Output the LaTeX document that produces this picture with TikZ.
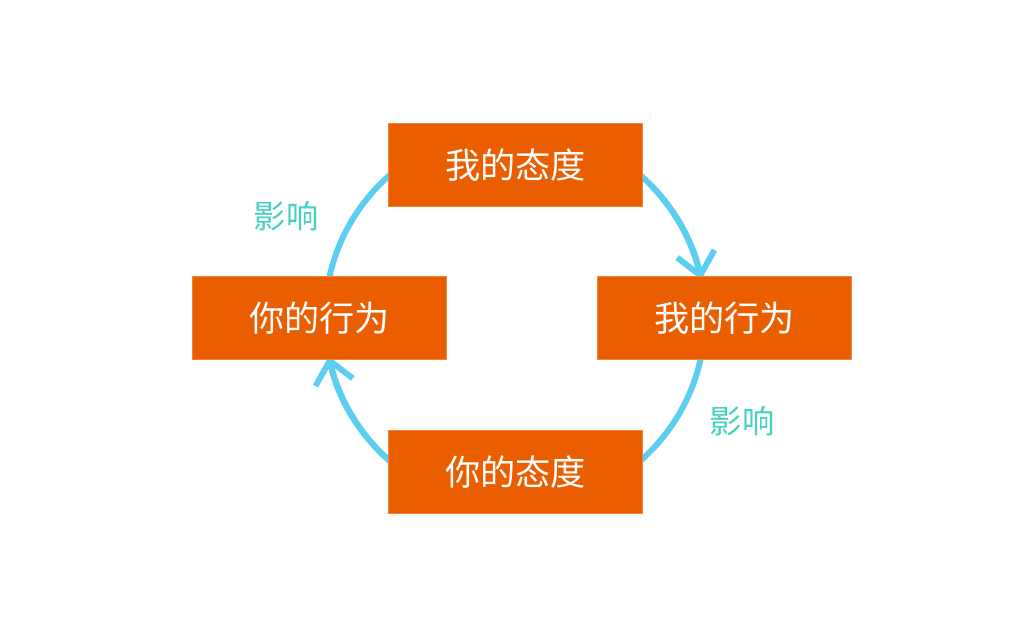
\documentclass[tikz,border=0pt]{standalone}
\usepackage{fontspec}
\newfontfamily\cjk{Noto Sans CJK SC}
\usetikzlibrary{positioning,arrows.meta,calc}
\definecolor{boxorange}{RGB}{234,94,0}
\definecolor{ringblue}{RGB}{92,206,242}
\definecolor{labelteal}{RGB}{72,208,192}

\begin{document}
\begin{tikzpicture}[
  x=0.025cm, y=-0.025cm,
  box/.style={rectangle,fill=boxorange,draw=boxorange!75!white,line width=0.5pt,minimum width=6.35cm,minimum height=2.07cm,inner sep=0pt,text=white,font=\cjk\fontsize{25}{30}\selectfont},
  ring/.style={draw=ringblue,line width=4.2pt},
  flow/.style={ring,-{Straight Barb[length=0.55cm,width=0.95cm]}},
  effect/.style={text=labelteal,font=\cjk\fontsize{23}{28}\selectfont}
]
  % page frame
  \useasboundingbox[fill=white] (0,0) rectangle (1024,620);

  % the cycle behind the boxes
  \coordinate (hub) at (515,318);
  \draw[ring] (hub) circle[radius=4.75cm];
  \draw[flow] ($(hub)+(45:4.75cm)$) arc[start angle=45,end angle=11.6,radius=4.75cm];
  \draw[flow] ($(hub)+(235:4.75cm)$) arc[start angle=235,end angle=191.6,radius=4.75cm];

  % the four steps
  \node[box] (myatt) at (515.5,165) {我的态度};
  \node[box] (myact) at (724.5,318) {我的行为};
  \node[box] (youratt) at (515.5,472) {你的态度};
  \node[box] (youract) at (319.5,318) {你的行为};

  \node[effect] (effA) at (286,216) {影响};
  \node[effect] (effB) at (742,421) {影响};
\end{tikzpicture}
\end{document}
